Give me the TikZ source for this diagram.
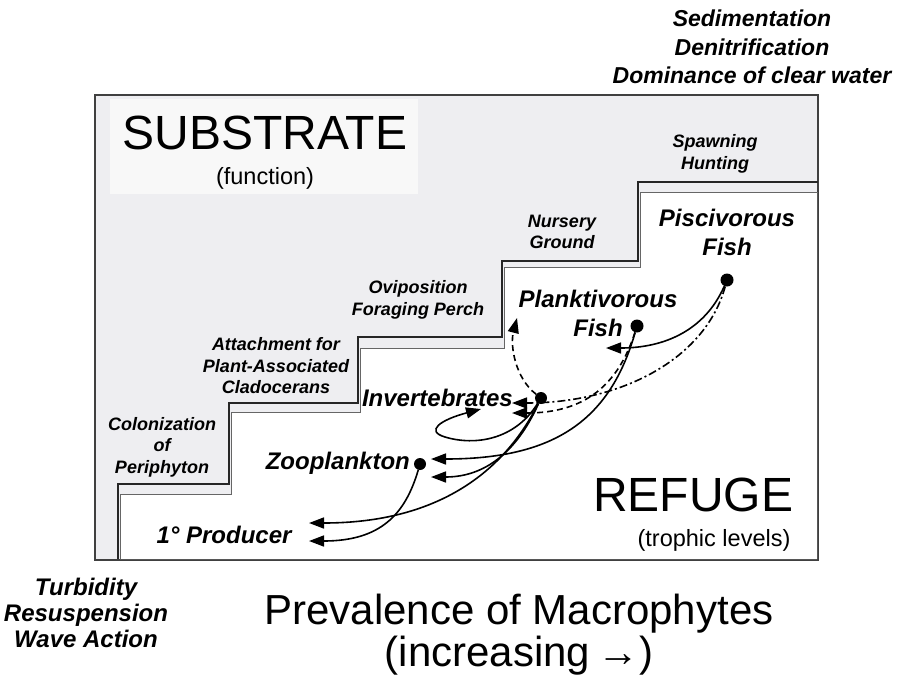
\documentclass[tikz,border=0pt]{standalone}
\usepackage{fontspec}
\setmainfont{Liberation Sans}
\usepackage{tikz}
\usetikzlibrary{arrows.meta}
\definecolor{subgray}{RGB}{238,238,241}
\definecolor{titlegray}{RGB}{248,248,248}
\newcommand{\fs}[2]{\fontsize{#1}{#2}\selectfont}

\begin{document}
\begin{tikzpicture}[x=1pt,y=-1pt,
    steplbl/.style={font=\bfseries\itshape\fs{18}{21.5}, align=center, inner sep=0},
    sidelbl/.style={font=\bfseries\itshape\fs{24}{26}, align=center, inner sep=0},
    trophlbl/.style={font=\bfseries\itshape\fs{24}{29}, align=center, inner sep=0},
    bigtitle/.style={font=\fs{48}{50}, inner sep=0},
    subtitle/.style={font=\fs{23.5}{26}, inner sep=0},
    fooddot/.style={circle, fill, inner sep=0, minimum size=13pt},
    feed/.style={line width=1.6pt, -{Triangle[length=15pt,width=11pt]}},
    longdash/.style={dash pattern=on 6pt off 4pt},
    dashdotted/.style={dash pattern=on 8pt off 3pt on 2pt off 3pt}]
  \useasboundingbox (0,0) rectangle (901,678);

  \draw[black!75, line width=1.3pt, fill=subgray] (95,95) rectangle (818,560);
  \fill[white] (120,559) -- (120,494) -- (231,494) -- (231,412) -- (360,412) -- (360,348)
    -- (504,348) -- (504,267) -- (640,267) -- (640,192) -- (817,192) -- (817,559) -- cycle;
  \draw[black!85, line width=1.5pt] (118,559) -- (118,484) -- (229,484) -- (229,403) -- (358,403)
    -- (358,337) -- (502,337) -- (502,261) -- (638,261) -- (638,182) -- (818,182);
  \draw[black!60, line width=0.8pt] (120,559) -- (120,494) -- (231,494) -- (231,412) -- (360,412)
    -- (360,348) -- (504,348) -- (504,267) -- (640,267) -- (640,192) -- (818,192);

  \fill[titlegray] (110,99) rectangle (418,194);
  \node[bigtitle] (substrate) at (265,133) {SUBSTRATE};
  \node[subtitle] (function) at (265,178) {(function)};
  \node[bigtitle] (refuge) at (693,495) {REFUGE};
  \node[subtitle] (levels) at (714,540) {(trophic levels)};

  \node[steplbl] (spawn) at (715,154) {Spawning\\Hunting};
  \node[steplbl] (nursery) at (562,232) {Nursery\\Ground};
  \node[steplbl] (ovipos) at (418,300) {Oviposition\\Foraging Perch};
  \node[steplbl] (attach) at (276,366) {Attachment for\\Plant-Associated\\Cladocerans};
  \node[steplbl] (colon) at (162,447) {Colonization\\of\\Periphyton};

  \node[sidelbl, font=\bfseries\itshape\fs{23}{28.5}] (clear) at (752,47) {Sedimentation\\Denitrification\\Dominance of clear water};
  \node[sidelbl] (turbid) at (86,613) {Turbidity\\Resuspension\\Wave Action};
  \node[font=\fs{42}{42}, align=center, inner sep=0] (prevalence) at (519,635) {Prevalence of Macrophytes\\(increasing\,→)};

  \node[fooddot] (pisc) at (727,280) {};
  \node[fooddot] (plank) at (637,326) {};
  \node[fooddot, minimum size=12pt] (invert) at (541,398) {};
  \node[fooddot, minimum size=12pt] (zoo) at (420,464) {};
  \node[trophlbl] (pisclbl) at (727,232) {Piscivorous\\Fish};
  \node[trophlbl] (planklbl) at (598,313) {Planktivorous\\Fish};
  \node[trophlbl, anchor=east] (invertlbl) at (513,398) {Invertebrates};
  \node[trophlbl, anchor=east] (zoolbl) at (410,463) {Zooplankton};
  \node[trophlbl] (prodlbl) at (224,535) {1\textdegree\ Producer};

  \coordinate (plankin) at (606,348);
  \coordinate (zooinA) at (431,459);
  \coordinate (zooinB) at (431,477);
  \coordinate (prodinA) at (309,523);
  \coordinate (prodinB) at (309,541);
  \coordinate (loopin) at (481,409);
  \coordinate (upin) at (517,318);
  \coordinate (invinA) at (512,403);
  \coordinate (invinB) at (512,413);

  \draw[feed] (pisc) .. controls (705,330) and (665,348) .. (plankin);
  \draw[feed] (plank) .. controls (610,420) and (555,459) .. (zooinA);
  \draw[feed] (invert) .. controls (520,445) and (490,477) .. (zooinB);
  \draw[feed] (invert) .. controls (505,470) and (440,523) .. (prodinA);
  \draw[feed] (zoo) .. controls (405,515) and (380,541) .. (prodinB);
  \draw[feed] (invert) .. controls (515,440) and (475,446) .. (445,437)
    .. controls (425,431) and (440,420) .. (loopin);
  \draw[feed, longdash] (invert) .. controls (515,378) and (510,345) .. (upin);
  \draw[feed, dashdotted] (pisc) .. controls (705,360) and (620,403) .. (invinA);
  \draw[feed, longdash] (plank) .. controls (618,385) and (585,413) .. (invinB);
\end{tikzpicture}
\end{document}
